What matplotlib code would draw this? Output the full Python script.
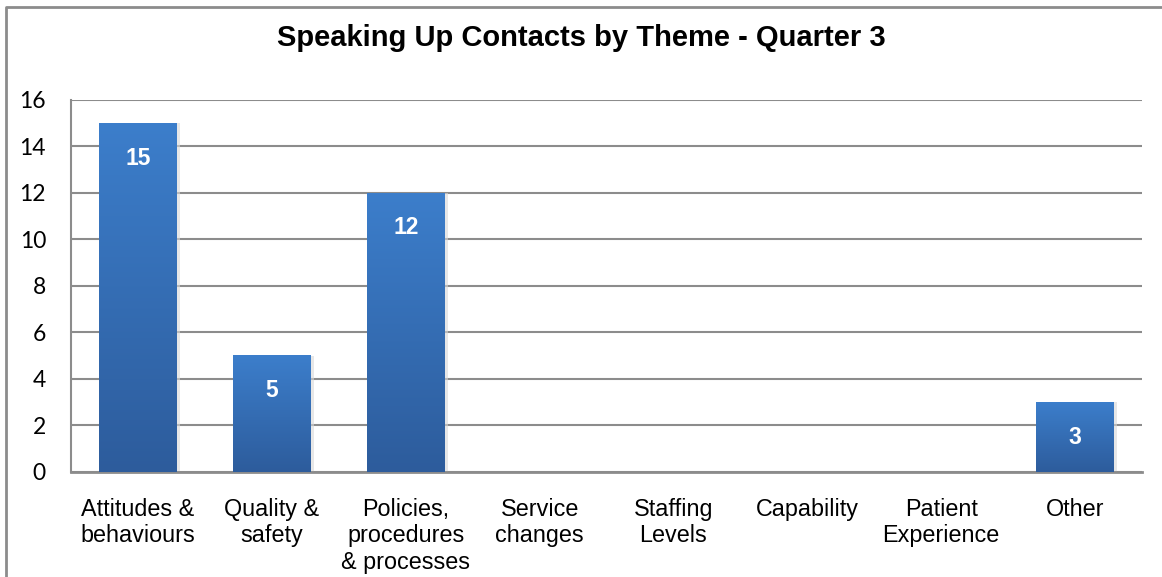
import numpy as np
import matplotlib.pyplot as plt
from matplotlib.lines import Line2D
from matplotlib.colors import LinearSegmentedColormap

# Speaking Up contacts, Q3
themes = ["Attitudes &\nbehaviours", "Quality &\nsafety", "Policies,\nprocedures\n& processes",
          "Service\nchanges", "Staffing\nLevels", "Capability", "Patient\nExperience", "Other"]
contacts = [15, 5, 12, 0, 0, 0, 0, 3]
y_ticks = [0, 2, 4, 6, 8, 10, 12, 14, 16]

fig = plt.figure(figsize=(11.62, 5.77), dpi=100)
ax = fig.add_axes([0.0611, 0.182, 0.9217, 0.6447])

grad = LinearSegmentedColormap.from_list("bar_grad", ["#2d5c9c", "#3c7ecb"])
x = np.arange(len(themes))
bars = ax.bar(x, contacts, width=0.58, color="#3670b8", zorder=3)

for b, v in zip(bars, contacts):
    if v == 0:
        continue
    x0, w, h = b.get_x(), b.get_width(), b.get_height()
    # soft drop shadow to the right
    ax.bar(x0 + w / 2 + 0.025, h, width=w, color="#d8d8d8", zorder=2, alpha=0.6)
    g = np.linspace(0, 1, 256).reshape(-1, 1)
    ax.imshow(g, extent=(x0, x0 + w, 0, h), origin="lower", cmap=grad,
              aspect="auto", zorder=4)
    ax.text(x0 + w / 2, h - 1.5, str(v), ha="center", va="center", color="white",
            fontsize=16.5, fontweight="bold", family="Liberation Sans", zorder=5)

ax.set_xlim(-0.5, len(themes) - 0.5)
ax.set_ylim(0, 16)
ax.set_yticks(y_ticks)
ax.set_yticklabels([str(t) for t in y_ticks], family="Lato", fontsize=16.5)
ax.set_xticks(x)
ax.set_xticklabels(themes, family="Liberation Sans", fontsize=16.8, linespacing=1.2)
ax.tick_params(axis="both", length=0)
ax.tick_params(axis="y", pad=18)
ax.tick_params(axis="x", pad=18.5)

ax.yaxis.grid(True, color="#8c8c8c", linewidth=1.5, zorder=1)
ax.set_axisbelow(True)
for s in ["top", "right"]:
    ax.spines[s].set_visible(False)
ax.spines["left"].set_color("#8c8c8c")
ax.spines["left"].set_linewidth(1.5)
ax.spines["bottom"].set_color("#8c8c8c")
ax.spines["bottom"].set_linewidth(2)

fig.text(0.5, 1 - 38 / 577, "Speaking Up Contacts by Theme - Quarter 3", ha="center",
         va="center", fontsize=21, fontweight="bold", family="Liberation Sans")

# chart frame (left and top edges)
fig.add_artist(Line2D([6 / 1162, 6 / 1162, 1.0], [0.0, 1 - 7 / 577, 1 - 7 / 577],
                      transform=fig.transFigure, color="#8c8c8c", linewidth=2))

fig.savefig("out.png", dpi=100)
